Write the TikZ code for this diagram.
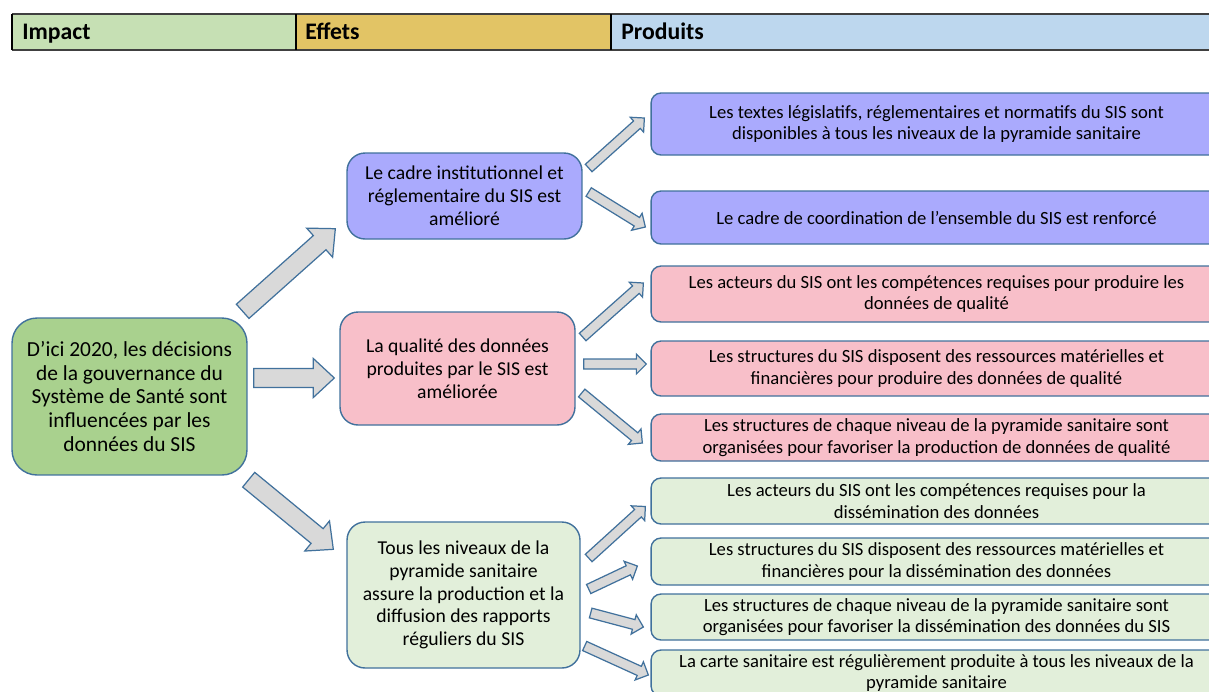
\documentclass[tikz,border=0pt]{standalone}
\usepackage{fontspec}
\setmainfont{Carlito}
\usetikzlibrary{calc}

\definecolor{hdimp}{HTML}{C6E0B4}
\definecolor{hdeff}{HTML}{E2C465}
\definecolor{hdprod}{HTML}{BDD7EE}
\definecolor{impfill}{HTML}{A9D18E}
\definecolor{bluefill}{HTML}{AAAAFD}
\definecolor{pinkfill}{HTML}{F8BFC9}
\definecolor{greenfill}{HTML}{E2EFDA}
\definecolor{arrfill}{HTML}{D9D9D9}
\definecolor{edge}{HTML}{41719C}

% block arrow: shaft half width, head half width, head length, tail, tip
\newcommand{\blockarrow}[5]{%
  \coordinate (ba_h) at ($(#5)!#3!(#4)$);
  \draw[arrowbox] ($(#4)!#1!90:(#5)$) -- ($(ba_h)!#1!-90:(#4)$) -- ($(ba_h)!#2!-90:(#4)$)
    -- (#5) -- ($(ba_h)!#2!90:(#4)$) -- ($(ba_h)!#1!90:(#4)$) -- ($(#4)!#1!-90:(#5)$) -- cycle;}

\begin{document}
\begin{tikzpicture}[x=0.02cm,y=-0.02cm,
    box/.style={draw=edge,line width=0.8pt,align=center,inner sep=0pt},
    impbox/.style={box,fill=impfill,rounded corners=0.5cm,minimum width=4.7cm,minimum height=3.14cm,
      font=\fontsize{12.2}{13.6}\selectfont},
    effbox/.style={box,rounded corners=0.36cm,minimum width=4.7cm,font=\fontsize{11.2}{13}\selectfont},
    prodbox/.style={box,rounded corners=0.2cm,minimum width=11.42cm,font=\fontsize{10.6}{12.2}\selectfont},
    arrowbox/.style={draw=edge,fill=arrfill,line width=0.7pt,line join=miter},
    hdtext/.style={anchor=base west,font=\fontsize{13.5}{15}\selectfont\bfseries,inner sep=0pt}]
  \useasboundingbox (0,0) rectangle (1209,691);
  \clip (0,0) rectangle (1209,691);

  % header
  \fill[hdimp] (12,14) rectangle (296,50);
  \fill[hdeff] (296,14) rectangle (611,50);
  \fill[hdprod] (611,14) rectangle (1215,50);
  \draw[black!75,line width=1.4pt] (12,14) -- (1215,14) (12,50) -- (1215,50);
  \draw[black,line width=0.7pt] (12,14) -- (12,50) (296,14) -- (296,50) (611,14) -- (611,50);
  \node[hdtext] (hd_imp) at (22,39) {Impact};
  \node[hdtext] (hd_eff) at (305,39) {Effets};
  \node[hdtext] (hd_prod) at (621,39) {Produits};

  % impact
  \node[impbox] (imp) at (129.5,396.5) {D’ici 2020, les décisions\\de la gouvernance du\\Système de Santé sont\\influencées par les\\données du SIS};

  % effets
  \node[effbox,fill=bluefill,minimum height=1.72cm] (eff_1) at (464.5,196)
    {Le cadre institutionnel et\\réglementaire du SIS est\\amélioré};
  \node[effbox,fill=pinkfill,minimum height=2.26cm] (eff_2) at (457.5,368.5)
    {La qualité des données\\produites par le SIS est\\améliorée};
  \node[effbox,fill=greenfill,minimum height=2.92cm,minimum width=4.66cm] (eff_3) at (463.5,595)
    {Tous les niveaux de la\\pyramide sanitaire\\assure la production et la\\diffusion des rapports\\réguliers du SIS};

  % produits
  \node[prodbox,fill=bluefill,minimum height=1.24cm] (prod_1) at (936.5,124)
    {Les textes législatifs, réglementaires et normatifs du SIS sont\\disponibles à tous les niveaux de la pyramide sanitaire};
  \node[prodbox,fill=bluefill,minimum height=1.06cm] (prod_2) at (936.5,217.5)
    {Le cadre de coordination de l’ensemble du SIS est renforcé};
  \node[prodbox,fill=pinkfill,minimum height=1.12cm] (prod_3) at (936.5,294)
    {Les acteurs du SIS ont les compétences requises pour produire les\\données de qualité};
  \node[prodbox,fill=pinkfill,minimum height=1.1cm] (prod_4) at (936.5,368.5)
    {Les structures du SIS disposent des ressources matérielles et\\financières pour produire des données de qualité};
  \node[prodbox,fill=pinkfill,minimum height=0.94cm] (prod_5) at (936.5,437.5)
    {Les structures de chaque niveau de la pyramide sanitaire sont\\organisées pour favoriser la production de données de qualité};
  \node[prodbox,fill=greenfill,minimum height=0.92cm] (prod_6) at (936.5,501)
    {Les acteurs du SIS ont les compétences requises pour la\\dissémination des données};
  \node[prodbox,fill=greenfill,minimum height=0.94cm] (prod_7) at (936.5,561.5)
    {Les structures du SIS disposent des ressources matérielles et\\financières pour la dissémination des données};
  \node[prodbox,fill=greenfill,minimum height=0.92cm] (prod_8) at (936.5,617)
    {Les structures de chaque niveau de la pyramide sanitaire sont\\organisées pour favoriser la dissémination des données du SIS};
  \node[prodbox,fill=greenfill,minimum height=0.92cm] (prod_9) at (936.5,673)
    {La carte sanitaire est régulièrement produite à tous les niveaux de la\\pyramide sanitaire};

  % arrow ends
  \coordinate (t_1) at ($(imp.north east)+(-5,-6)$);
  \coordinate (h_1) at ($(eff_1.south west)+(-11,-11)$);
  \coordinate (t_2) at ($(imp.east)+(6,-18.5)$);
  \coordinate (h_2) at ($(eff_2.west)+(-5,9.5)$);
  \coordinate (t_3) at ($(imp.south east)+(1,4)$);
  \coordinate (h_3) at ($(eff_3.north west)+(-13,28)$);
  \blockarrow{0.19cm}{0.39cm}{0.42cm}{t_1}{h_1}
  \blockarrow{0.19cm}{0.39cm}{0.42cm}{t_2}{h_2}
  \blockarrow{0.19cm}{0.39cm}{0.42cm}{t_3}{h_3}

  \coordinate (a_1) at ($(eff_1.east)+(6,-28)$);
  \coordinate (b_1) at ($(prod_1.west)+(-6,-6)$);
  \coordinate (a_2) at ($(eff_1.east)+(6,-4)$);
  \coordinate (b_2) at ($(prod_2.west)+(-5,9.5)$);
  \coordinate (a_3) at ($(eff_2.east)+(7,-31.5)$);
  \coordinate (b_3) at ($(prod_3.west)+(-7,-11)$);
  \coordinate (a_4) at ($(eff_2.east)+(8,-4.5)$);
  \coordinate (b_4) at ($(prod_4.west)+(-4,-4.5)$);
  \coordinate (a_5) at ($(eff_2.east)+(6,24.5)$);
  \coordinate (b_5) at ($(prod_5.west)+(-8,5.5)$);
  \coordinate (a_6) at ($(eff_3.east)+(8,-37)$);
  \coordinate (b_6) at ($(prod_6.west)+(-5,5.5)$);
  \coordinate (a_7) at ($(eff_3.east)+(8,-6)$);
  \coordinate (b_7) at ($(prod_7.west)+(-13,4.5)$);
  \coordinate (a_8) at ($(eff_3.east)+(10,18)$);
  \coordinate (b_8) at ($(prod_8.west)+(-7,10)$);
  \coordinate (a_9) at ($(eff_3.east)+(4,51)$);
  \coordinate (b_9) at ($(prod_9.west)+(-2,2)$);
  \foreach \i in {1,...,9}{
    \blockarrow{0.1cm}{0.2cm}{0.2cm}{a_\i}{b_\i}
  }
\end{tikzpicture}
\end{document}
